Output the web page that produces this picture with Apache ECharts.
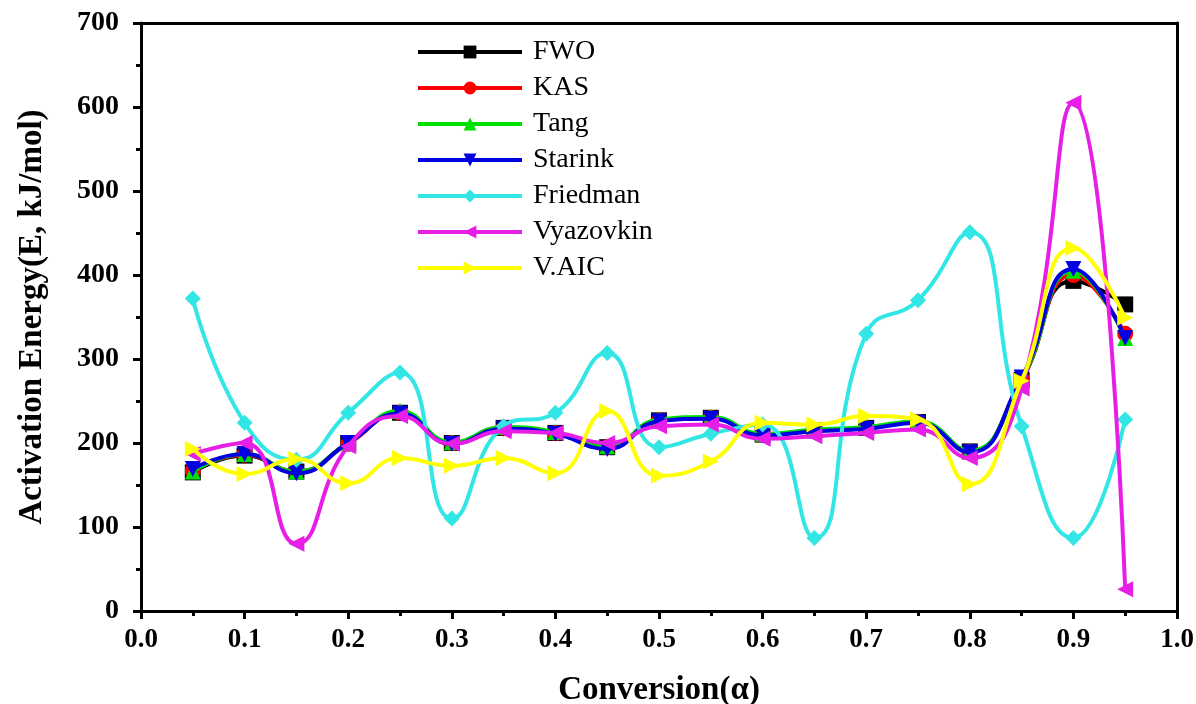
<!DOCTYPE html>
<html>
<head>
<meta charset="utf-8">
<script src="https://cdn.jsdelivr.net/npm/echarts@6/dist/echarts.min.js"></script>
<style>
  html, body { margin: 0; padding: 0; background: #fff; }
  #main { width: 1196px; height: 704px; }
</style>
</head>
<body>
<div id="main"></div>
<script>
// conversion values
var alpha = [0.05, 0.10, 0.15, 0.20, 0.25, 0.30, 0.35, 0.40, 0.45, 0.50,
             0.55, 0.60, 0.65, 0.70, 0.75, 0.80, 0.85, 0.90, 0.95];

// activation energy, kJ/mol
var fwo       = [165, 185, 166, 200, 236, 200, 218, 212, 195, 227, 230, 210, 215, 218, 225, 190, 275, 393, 365];
var kas       = [167, 186, 166, 199, 236, 200, 218, 212, 195, 227, 230, 210, 215, 218, 225, 190, 276, 400, 330];
var tang      = [166, 187, 166, 200, 238, 201, 219, 213, 196, 228, 231, 211, 216, 219, 226, 191, 276, 405, 325];
var starink   = [169, 187, 164, 200, 235, 199, 217, 211, 193, 226, 229, 209, 214, 217, 224, 189, 278, 407, 325];
var friedman  = [372, 224, 180, 236, 284, 110, 220, 236, 307, 195, 211, 222, 87, 330, 370, 451, 220, 87, 228];
var vyazovkin = [187, 200, 80, 196, 232, 199, 214, 212, 200, 220, 222, 205, 208, 212, 216, 182, 265, 605, 26];
var vaic      = [193, 163, 181, 152, 182, 173, 182, 164, 238, 161, 178, 224, 222, 232, 228, 151, 274, 432, 349];

var names  = ['FWO', 'KAS', 'Tang', 'Starink', 'Friedman', 'Vyazovkin', 'V.AIC'];
var colors = ['#000000', '#ff0000', '#00e000', '#0000e0', '#33e6e6', '#e61ee6', '#ffff00'];
var symbols = ['rect', 'circle', 'triangle', 'triangle', 'diamond', 'triangle', 'triangle'];
var rotates = [0, 0, 0, 180, 0, 90, -90];
var values = [fwo, kas, tang, starink, friedman, vyazovkin, vaic];

var serif = '"Liberation Serif", "DejaVu Serif", serif';

function pairs(arr) {
  var out = [];
  for (var i = 0; i < alpha.length; i++) out.push([alpha[i], arr[i]]);
  return out;
}

var series = [];
for (var k = 0; k < names.length; k++) {
  series.push({
    name: names[k],
    type: 'line',
    smooth: 0.5,
    data: pairs(values[k]),
    symbol: symbols[k],
    symbolRotate: rotates[k],
    symbolSize: 16,
    lineStyle: { width: 4, color: colors[k] },
    itemStyle: { color: colors[k] },
    z: 2 + k
  });
}

var chart = echarts.init(document.getElementById('main'));
var option = {
  backgroundColor: '#fff',
  animation: false,
  grid: { left: 141, right: 19, top: 23, bottom: 93, containLabel: false, outerBoundsMode: 'none' },
  legend: {
    orient: 'vertical',
    left: 411,
    top: 33,
    itemWidth: 104,
    itemHeight: 16,
    itemGap: 8,
    lineStyle: { width: 4 },
    textStyle: { fontFamily: serif, fontSize: 28, color: '#000', padding: [0, 0, 0, 6] },
    data: names
  },
  xAxis: [{
    type: 'value',
    min: 0, max: 1, interval: 0.1,
    name: 'Conversion(\u03b1)',
    nameLocation: 'middle',
    nameGap: 63,
    nameTextStyle: { fontFamily: serif, fontSize: 33, fontWeight: 'bold', color: '#000' },
    axisLine: { lineStyle: { color: '#000', width: 3 } },
    axisTick: { length: 8, lineStyle: { width: 3, color: '#000' } },
    minorTick: { show: true, splitNumber: 2, length: 5, lineStyle: { width: 3, color: '#000' } },
    splitLine: { show: false },
    axisLabel: {
      margin: 16,
      fontFamily: serif, fontSize: 27, fontWeight: 'bold', color: '#000',
      formatter: function (v) { return v.toFixed(1); }
    }
  }, {
    type: 'value', position: 'top', min: 0, max: 1,
    axisLine: { show: true, onZero: false, lineStyle: { color: '#000', width: 3 } },
    axisTick: { show: false }, axisLabel: { show: false }, splitLine: { show: false }
  }],
  yAxis: [{
    type: 'value',
    min: 0, max: 700, interval: 100,
    name: 'Activation Energy(E, kJ/mol)',
    nameLocation: 'middle',
    nameGap: 92,
    nameTextStyle: { fontFamily: serif, fontSize: 33, fontWeight: 'bold', color: '#000' },
    axisLine: { show: true, lineStyle: { color: '#000', width: 3 } },
    axisTick: { length: 8, lineStyle: { width: 3, color: '#000' } },
    minorTick: { show: true, splitNumber: 2, length: 5, lineStyle: { width: 3, color: '#000' } },
    splitLine: { show: false },
    axisLabel: { margin: 22, fontFamily: serif, fontSize: 28, fontWeight: 'bold', color: '#000' }
  }, {
    type: 'value', position: 'right', min: 0, max: 700,
    axisLine: { show: true, onZero: false, lineStyle: { color: '#000', width: 3 } },
    axisTick: { show: false }, axisLabel: { show: false }, splitLine: { show: false }
  }],
  series: series
};
chart.setOption(option);
</script>
</body>
</html>
